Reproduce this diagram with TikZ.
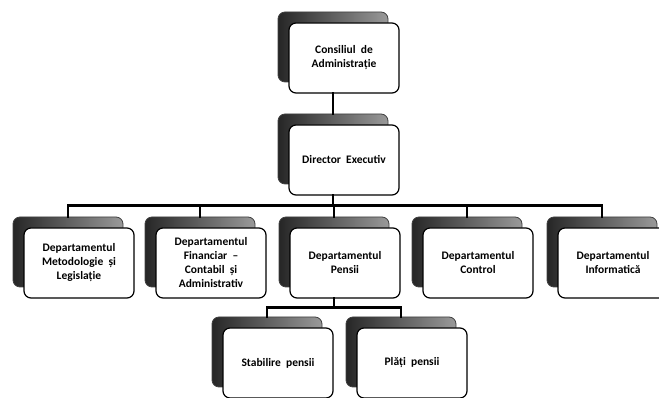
\documentclass[tikz,border=0pt]{standalone}
\usepackage{fontspec}
\setmainfont{Carlito}
\usetikzlibrary{positioning}

\newcommand{\unitfont}{\bfseries\fontsize{11.5}{14}\selectfont\spaceskip=0.45em\relax}

% back plate + front card of one unit
\newcommand{\orgunit}[3]{%
  \node[backbox, xshift=-11pt, yshift=11pt] (#1-b) at (#2) {};
  \node[frontbox] (#1) at (#2) {#3};}

\begin{document}
\begin{tikzpicture}[
  x=1pt, y=1pt, font=\unitfont,
  frontbox/.style={draw=black, line width=1.2pt, rounded corners=7pt, fill=white,
                   align=center, inner sep=0pt, minimum width=110pt, minimum height=70pt},
  backbox/.style={draw=black!75, line width=0.8pt, rounded corners=7pt,
                  left color=black!85, right color=black!40,
                  inner sep=0pt, minimum width=110pt, minimum height=70pt},
  conn/.style={line width=2.6pt, black, line cap=rect},
]
\useasboundingbox (0,0) rectangle (659,398);
\clip (0,0) rectangle (659,398);

\orgunit{cons}{344,340}{Consiliul de\\Administrație}
\orgunit{dir}{344,238}{Director Executiv}

\orgunit{met}{79,135}{Departamentul\\Metodologie și\\Legislație}
\orgunit{fin}{211,135}{Departamentul\\Financiar –\\Contabil și\\Administrativ}
\orgunit{pen}{345,135}{Departamentul\\Pensii}
\orgunit{ctl}{478,135}{Departamentul\\Control}
\orgunit{inf}{613,135}{Departamentul\\Informatică}

\orgunit{sta}{278,35}{Stabilire pensii}
\orgunit{pla}{412,35}{Plăți pensii}

% connectors
\draw[conn] (cons.south -| cons-b) -- (dir-b.north);
\draw[conn] (dir.south -| dir-b) -- ++(0,-10) coordinate (busA);
\foreach \n in {met,fin,pen,ctl,inf}
  \draw[conn] (busA) -| (\n-b.north);
\draw[conn] (pen.south -| pen-b) -- ++(0,-9) coordinate (busB);
\foreach \n in {sta,pla}
  \draw[conn] (busB) -| (\n-b.north);
\end{tikzpicture}
\end{document}
